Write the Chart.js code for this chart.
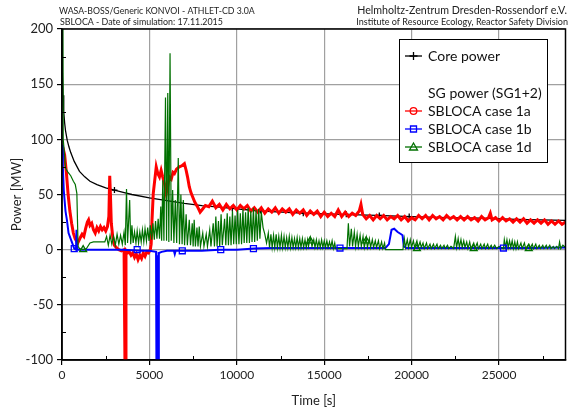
<!DOCTYPE html>
<html><head><meta charset="utf-8">
<script src="https://cdn.jsdelivr.net/npm/chart.js@4.4.0/dist/chart.umd.min.js"></script>
<style>html,body{margin:0;padding:0;background:#fff}#wrap{position:relative;width:571px;height:415px}</style>
</head><body><div id="wrap"><canvas id="c" width="571" height="415"></canvas></div>
<script>
// ---------------- DATA ----------------
const xTickValues = [0, 5000, 10000, 15000, 20000, 25000];
const yTickValues = [-100, -50, 0, 50, 100, 150, 200];
const xMinorTicks = [2500, 7500, 12500, 17500, 22500, 27500];
const yMinorTicks = [-75, -25, 25, 75, 125, 175];

const headerLeft = ["WASA-BOSS/Generic KONVOI - ATHLET-CD 3.0A", "SBLOCA - Date of simulation: 17.11.2015"];
const headerRight = ["Helmholtz-Zentrum Dresden-Rossendorf e.V.", "Institute of Resource Ecology, Reactor Safety Division"];
const xTitle = "Time [s]";
const yTitle = "Power [MW]";
const seriesNames = ["Core power", "SBLOCA case 1a", "SBLOCA case 1b", "SBLOCA case 1d"];
const legendHeading = "SG power (SG1+2)";

// [time s, power MW]
const corePower = [[0,230],[30,160],[60,140],[100,125],[150,115],[200,108],[300,99],[400,93],[500,88],[700,80],[1000,71],[1300,66],[1600,62],[2000,59],[2500,56],[3000,54],[3500,52],[4000,50],[5000,47],[6000,44.5],[7000,42],[8000,40],[9000,38.5],[10000,37],[11000,35.5],[12000,34.5],[14000,33],[16000,32],[18000,31],[20000,30],[22000,29],[24000,28.5],[26000,27.5],[28800,26.5]];

const case1a = [[0,95],[60,92],[150,86],[250,70],[350,50],[450,35],[550,24],[650,15],[750,10],[900,6],[1050,11],[1150,14],[1250,12],[1350,19],[1450,25],[1520,27],[1600,22],[1700,24],[1800,18],[1900,15],[2000,20],[2100,17],[2200,21],[2300,18],[2400,20],[2500,17],[2600,21],[2680,30],[2730,67],[2770,50],[2820,24],[2900,12],[3000,4],[3100,2],[3250,0],[3400,-1],[3550,0],[3600,-100],[3620,-100],[3660,-1],[3750,-3],[3850,-2],[3950,-5],[4050,-3],[4150,-7],[4250,-4],[4350,-9],[4450,-5],[4550,-8],[4650,-3],[4750,-6],[4850,-2],[4950,-3],[5050,0],[5100,5],[5150,27],[5220,51],[5390,75],[5480,69],[5575,66],[5670,72],[5760,66],[5860,60],[5960,51],[6050,58],[6140,66],[6250,64],[6350,70],[6430,69],[6550,73],[6710,75],[6850,76],[7000,78],[7100,72],[7180,66],[7280,57],[7370,52],[7470,48],[7600,43],[7750,39],[7900,34],[8000,36],[8200,40],[8400,39],[8600,44],[8800,38],[9000,41],[9200,36],[9400,41],[9600,37],[9800,40],[10000,36],[10200,40],[10400,37],[10600,40],[10800,35],[11000,38],[11200,34],[11400,38],[11600,33],[11800,37],[12000,34],[12200,38],[12400,33],[12600,37],[12800,34],[13000,37],[13200,32],[13400,36],[13600,33],[13800,36],[14000,31],[14200,35],[14400,32],[14600,35],[14800,30],[15000,34],[15200,30],[15400,33],[15600,30],[15800,36],[16000,30],[16200,34],[16400,30],[16600,33],[16800,31],[17000,35],[17100,41],[17200,32],[17400,28],[17600,31],[17800,27],[18000,31],[18200,28],[18400,31],[18600,27],[18800,30],[19000,28],[19200,31],[19400,27],[19600,30],[19800,26],[20000,29],[20200,27],[20400,31],[20600,28],[20800,31],[21000,27],[21200,31],[21400,28],[21600,30],[21800,27],[22000,31],[22200,28],[22400,30],[22600,27],[22800,30],[23000,27],[23200,30],[23400,27],[23600,29],[23800,26],[24000,30],[24200,27],[24400,29],[24500,33],[24600,27],[24800,29],[25000,26],[25200,29],[25400,26],[25600,28],[25800,25],[26000,28],[26200,25],[26400,28],[26600,24],[26800,27],[27000,24],[27200,27],[27400,24],[27600,27],[27800,23],[28000,26],[28200,23],[28400,26],[28600,23],[28800,25]];

const case1b = [[0,95],[50,75],[100,54],[200,35],[280,27],[375,15],[560,7],[700,1],[800,0],[830,18],[860,1],[950,0],[1500,0],[2500,0],[3500,0],[4500,-1],[5000,-1],[5380,-2],[5400,-100],[5440,-100],[5460,-5],[5480,-100],[5520,-100],[5540,-3],[5700,-2],[6000,-1],[6400,-1],[6450,-4],[6500,-1],[7000,-1],[8000,-1],[9000,0],[10000,0],[11000,1],[12000,1.5],[14000,1.5],[16000,1.5],[18000,1.5],[18500,1.5],[18700,5],[18850,18],[19000,19],[19200,16],[19400,14],[19480,13],[19550,3],[19700,1.5],[21000,1.5],[23000,1.5],[25000,1.5],[27000,1.5],[28800,2]];

const case1d = [[0,210],[50,200],[70,100],[150,85],[200,74],[350,70],[500,67],[650,62],[760,59],[850,51],[920,3],[1000,1],[1200,0],[1400,1],[1600,6],[1800,7],[2000,7],[2200,7],[2350,7],
[2450,7],[2550,12],[2650,4],[2750,13],[2850,5],[2950,12],[3050,4],[3150,14],[3250,5],[3350,13],[3450,5],[3550,16],[3620,4],[3690,55],[3750,6],[3870,45],[3930,5],[4000,22],[4070,6],[4150,16],[4230,6],[4300,17],[4380,6],[4450,16],[4530,7],[4600,18],[4680,7],[4750,19],[4830,8],[4900,20],[4980,8],[5050,22],[5130,9],[5200,24],[5280,9],[5350,26],[5430,10],[5500,28],[5580,10],
[5650,39],[5700,8],[5765,63],[5830,8],[5920,138],[5980,8],[6050,142],[6110,7],[6180,178],[6250,8],[6330,54],[6400,6],[6480,45],[6560,6],[6650,83],[6720,5],[6800,50],[6870,5],[6940,45],[7010,4],[7100,32],[7170,4],[7280,27],[7350,4],[7450,24],[7500,3],[7560,27],[7630,3],[7720,20],[7780,3],[7850,21],[7920,3],[8050,15],[8120,3],[8250,14],[8320,3],[8450,18],[8520,3],[8650,24],[8720,3],[8800,30],[8870,3],[8950,26],[9020,3],
[9100,32],[9170,4],[9300,28],[9370,4],[9450,33],[9520,4],[9600,30],[9670,4],[9750,35],[9820,5],[9900,31],[9970,5],[10050,36],[10120,5],[10200,33],[10270,5],[10350,37],[10420,6],[10500,34],[10570,6],[10650,38],[10720,6],[10800,35],[10870,7],[10950,38],[11020,7],[11100,36],[11170,8],[11250,37],[11320,10],[11400,34],[11500,20],[11600,14],[11700,6],
[11800,15],[11870,2],[11950,14],[12020,2],[12100,13],[12170,2],[12250,14],[12320,2],[12400,12],[12470,2],[12550,13],[12620,2],[12700,12],[12770,2],[12850,11],[12920,2],[13000,12],[13070,2],[13150,11],[13220,2],[13300,10],[13370,2],[13450,11],[13520,2],[13600,10],[13670,2],[13750,10],[13820,2],[13900,9],[13970,2],[14050,9],[14100,3],[14200,11],[14300,3],[14400,9],[14470,2],[14550,9],[14620,2],[14700,8],[14770,2],[14850,9],[14920,2],[15000,8],[15070,2],[15150,8],[15220,2],[15300,7],[15370,2],[15450,8],[15520,1],[15600,6],[15650,1],[16000,1],[16300,1],
[16380,24],[16450,3],[16550,19],[16620,3],[16720,16],[16790,3],[16880,14],[16950,3],[17050,13],[17120,3],[17220,12],[17290,2],[17400,11],[17470,2],[17580,10],[17650,2],[17750,9],[17820,2],[17920,8],[17990,2],[18100,8],[18170,1],[18280,7],[18350,1],[18450,6],[18500,0],[19500,0],
[19580,10],[19650,2],[19750,9],[19820,2],[19920,9],[19990,2],[20100,8],[20170,2],[20300,8],[20370,2],[20480,7],[20550,2],[20650,6],[20720,1],[20850,6],[20920,1],[21050,5],[21120,1],[21250,5],[21320,1],[21450,5],[21520,1],[21650,4],[21720,1],[21850,4],[21920,1],[22050,4],[22120,1],[22250,3],[22400,1],
[22500,12],[22570,2],[22660,10],[22730,2],[22820,9],[22890,2],[22980,8],[23050,2],[23150,7],[23220,1],[23320,7],[23390,1],[23550,6],[23620,1],[23750,6],[23820,1],[23950,5],[24020,1],[24150,5],[24220,1],[24350,5],[24420,1],[24550,4],[24620,1],[24750,4],[24850,1],[25000,3],[25250,1],
[25300,9],[25370,2],[25450,9],[25520,2],[25600,8],[25670,2],[25750,8],[25820,1],[25900,7],[25970,1],[26050,7],[26120,1],[26250,6],[26320,1],[26450,6],[26520,1],[26700,5],[26770,1],[26900,5],[26970,1],[27100,5],[27170,1],[27300,4],[27370,1],[27500,4],[27570,1],[27700,4],[27770,1],[27900,4],[27970,1],[28100,3],[28170,1],[28300,3],[28400,1],[28460,7],[28530,1],[28650,4],[28800,2]];

// marker positions
const coreMarks = [[3000,54],[9740,37.5],[11350,35.5],[13800,33],[16260,32],[18150,31],[19860,30]];
const case1bMarks = [[700,1],[4300,0],[6880,-1],[9080,0],[10950,1],[15900,1.5],[25250,1.5]];
const case1dMarks = [[1210,0],[14200,8],[17400,8],[20300,1],[23550,1],[26700,1]];

// ---------------- CHART ----------------
const FONT = 'Lato, "Open Sans", sans-serif';
const COLORS = {core:'#000000', a:'#ff0000', b:'#0000ff', d:'#007000'};
const toXY = arr => arr.map(p => ({x:p[0], y:p[1]}));

function fitFont(ctx, text, target, weight) {
  let s = 14;
  for (let i = 0; i < 40; i++) {
    ctx.font = `${weight||''} ${s}px ${FONT}`;
    const w = ctx.measureText(text).width;
    if (Math.abs(w - target) < 0.5) break;
    s = s * target / w;
  }
  return ctx.font;
}

const deco = {
  id:'deco',
  beforeDraw(chart){
    const c = chart.ctx;
    c.save(); c.fillStyle='#fff'; c.fillRect(0,0,chart.width,chart.height); c.restore();
  },
  afterDraw(chart){
    const c = chart.ctx, ca = chart.chartArea;
    const xs = chart.scales.x, ys = chart.scales.y;
    c.save();
    // frame
    c.strokeStyle='#000'; c.lineWidth=1.5;
    c.strokeRect(ca.left, ca.top, ca.right-ca.left, ca.bottom-ca.top);
    // minor ticks (inside)
    c.lineWidth=1;
    c.beginPath();
    xMinorTicks.forEach(v=>{const px=Math.round(xs.getPixelForValue(v))+0.5; c.moveTo(px,ca.bottom); c.lineTo(px,ca.bottom-4);});
    yMinorTicks.forEach(v=>{const py=Math.round(ys.getPixelForValue(v))+0.5; c.moveTo(ca.left,py); c.lineTo(ca.left+4,py);});
    c.stroke();
    // headers
    c.fillStyle='#222'; c.textBaseline='middle';
    c.textAlign='left';
    c.font = fitFont(c, headerLeft[0], 196); c.fillText(headerLeft[0], 59, 11);
    c.font = fitFont(c, headerLeft[1], 163); c.fillText(headerLeft[1], 60, 22);
    c.textAlign='right';
    c.font = fitFont(c, headerRight[0], 210); c.fillText(headerRight[0], 567, 11);
    c.font = fitFont(c, headerRight[1], 212); c.fillText(headerRight[1], 568, 22);
    // axis titles
    c.textAlign='center';
    c.font = `13px ${FONT}`;
    c.fillText(xTitle, (ca.left+ca.right)/2, 401);
    c.save(); c.translate(17,(ca.top+ca.bottom)/2); c.rotate(-Math.PI/2); c.fillText(yTitle,0,0); c.restore();
    // legend
    const L = {x:399.5, y:39.5, w:148, h:123};
    c.fillStyle='#fff'; c.fillRect(L.x,L.y,L.w,L.h);
    c.strokeStyle='#000'; c.lineWidth=1; c.strokeRect(L.x,L.y,L.w,L.h);
    const rows = [
      {label:chart.data.datasets[0].label, y:56, color:COLORS.core, mark:'cross'},
      {label:legendHeading, y:93, color:null},
      {label:chart.data.datasets[1].label, y:111, color:COLORS.a, mark:'circle'},
      {label:chart.data.datasets[2].label, y:129, color:COLORS.b, mark:'rect'},
      {label:chart.data.datasets[3].label, y:147, color:COLORS.d, mark:'triangle'}
    ];
    c.font = `14px ${FONT}`; c.textAlign='left'; c.textBaseline='middle';
    rows.forEach(r=>{
      if (r.color){
        c.strokeStyle=r.color; c.lineWidth=1.3;
        c.beginPath(); c.moveTo(405,r.y); c.lineTo(422,r.y); c.stroke();
        c.beginPath();
        const cx=413.5, cy=r.y;
        if (r.mark==='cross'){ c.moveTo(cx-4,cy); c.lineTo(cx+4,cy); c.moveTo(cx,cy-4); c.lineTo(cx,cy+4); }
        else if (r.mark==='circle'){ c.arc(cx,cy,3.3,0,Math.PI*2); }
        else if (r.mark==='rect'){ c.rect(cx-3,cy-3,6,6); }
        else { c.moveTo(cx,cy-4); c.lineTo(cx+4,cy+3); c.lineTo(cx-4,cy+3); c.closePath(); }
        c.stroke();
      }
      c.fillStyle='#111'; c.fillText(r.label, 428, r.y+0.5);
    });
    c.restore();
  }
};

const lineDs = (label, data, color, width, order) => ({
  label, data: toXY(data), borderColor: color, backgroundColor: color,
  borderWidth: width, pointRadius: 0, showLine: true, order, tension: 0
});
const markDs = (data, color, style, r, order) => ({
  label: '', data: toXY(data), borderColor: color, backgroundColor: 'rgba(0,0,0,0)',
  showLine: false, pointStyle: style, pointRadius: r, pointBorderWidth: 1.3, order
});

new Chart(document.getElementById('c'), {
  type: 'scatter',
  data: { datasets: [
    lineDs(seriesNames[0], corePower, COLORS.core, 1.3, 6),
    lineDs(seriesNames[1], case1a, COLORS.a, 3, 5),
    lineDs(seriesNames[2], case1b, COLORS.b, 2, 4),
    lineDs(seriesNames[3], case1d, COLORS.d, 1.2, 3),
    markDs(coreMarks, COLORS.core, 'cross', 3, 7),
    markDs(case1bMarks, COLORS.b, 'rect', 4.2, 1),
    markDs(case1dMarks, COLORS.d, 'triangle', 4, 0)
  ]},
  options: {
    responsive: false, animation: false, devicePixelRatio: 1,
    layout: { padding: { top: 29, right: 2, left: 0, bottom: 0 } },
    plugins: { legend: { display: false }, tooltip: { enabled: false } },
    scales: {
      x: {
        type: 'linear', min: 0, max: 28800,
        afterBuildTicks: s => { s.ticks = xTickValues.map(v => ({ value: v })); },
        afterFit: s => { s.height = 55; },
        grid: { color: '#a0a0a0', lineWidth: 1.2, tickLength: 5, tickColor: '#000' },
        border: { color: '#000', width: 1.5 },
        ticks: { font: { family: FONT, size: 12 }, color: '#222', padding: 3, maxRotation: 0, autoSkip: false, callback: v => String(v) }
      },
      y: {
        type: 'linear', min: -100, max: 200,
        afterBuildTicks: s => { s.ticks = yTickValues.map(v => ({ value: v })); },
        afterFit: s => { s.width = 62; },
        grid: { color: '#a0a0a0', lineWidth: 1.2, tickLength: 5, tickColor: '#000' },
        border: { color: '#000', width: 1.5 },
        ticks: { font: { family: FONT, size: 13 }, color: '#222', padding: 4, autoSkip: false, callback: v => String(v) }
      }
    }
  },
  plugins: [deco]
});
</script>
</body></html>
